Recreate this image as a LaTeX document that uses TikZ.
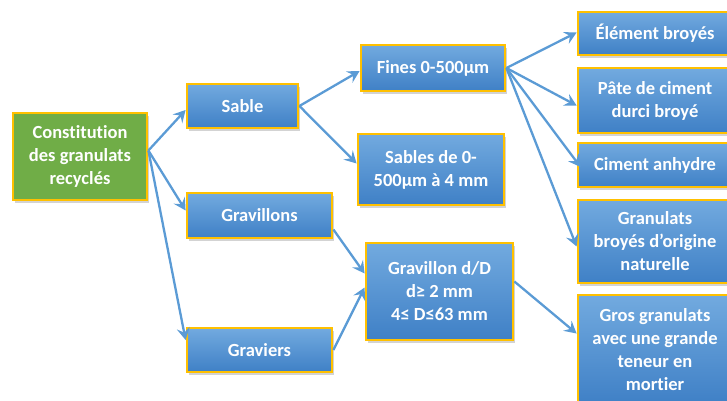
\documentclass[tikz,border=0pt]{standalone}
\usepackage{fontspec}
\setmainfont{Carlito}[Ligatures=NoCommon]
\usetikzlibrary{arrows.meta,shadows}
\definecolor{gold}{HTML}{FFC000}
\definecolor{btop}{HTML}{72AADF}
\definecolor{bbot}{HTML}{3F80C6}
\definecolor{groot}{HTML}{70AD47}
\definecolor{arr}{HTML}{5B9BD5}
\tikzset{
  box/.style={draw=gold, line width=2.8pt, top color=btop, bottom color=bbot,
    text=white, font=\bfseries\fontsize{18.5}{23}\selectfont, align=center,
    inner sep=0pt, drop shadow={shadow xshift=2pt, shadow yshift=-2.5pt, opacity=0.35}},
  rootbox/.style={box, fill=groot, top color=groot, bottom color=groot},
  conn/.style={draw=arr, line width=2.3pt, -{Stealth[length=12pt,width=13pt,inset=4.5pt]}}
}
\begin{document}
\begin{tikzpicture}[x=1pt,y=1pt]
\useasboundingbox (0,0) rectangle (727,-400);
\node[rootbox, minimum width=134pt, minimum height=87pt] (root) at (80,-156.5) {Constitution\\des granulats\\recyclés};
\node[box, minimum width=111pt, minimum height=44pt] (sable) at (242.5,-106) {Sable};
\node[box, minimum width=145pt, minimum height=45pt] (gravillons) at (259.5,-215.5) {Gravillons};
\node[box, minimum width=145pt, minimum height=44pt] (graviers) at (259.5,-350) {Graviers};
\node[box, minimum width=144pt, minimum height=46pt] (fines) at (433,-68) {Fines 0-500µm};
\node[box, minimum width=146pt, minimum height=71pt] (sables) at (431,-169.5) {Sables de 0-\\500µm à 4 mm};
\node[box, minimum width=147pt, minimum height=97pt] (gdd) at (439.5,-291.5) {Gravillon d/D\\d≥ 2 mm\\4≤ D≤63 mm};
\node[box, minimum width=154pt, minimum height=43pt] (elem) at (655,-33.5) {Élément broyés};
\node[box, minimum width=154pt, minimum height=65pt] (pate) at (655,-100.5) {Pâte de ciment\\durci broyé};
\node[box, minimum width=154pt, minimum height=44pt] (ciment) at (655,-165) {Ciment anhydre};
\node[box, minimum width=154pt, minimum height=83pt] (gran) at (655,-241.5) {Granulats\\broyés d’origine\\naturelle};
\node[box, minimum width=154pt, minimum height=109pt] (gros) at (655,-349.5) {Gros granulats\\avec une grande\\teneur en\\mortier};
\draw[conn] ([yshift=6pt]root.east) -- ([yshift=-4pt]sable.west);
\draw[conn] ([yshift=6pt]root.east) -- ([yshift=5pt]gravillons.west);
\draw[conn] ([yshift=6pt]root.east) -- ([yshift=10pt]graviers.west);
\draw[conn] (sable.east) -- ([yshift=-3pt]fines.west);
\draw[conn] (sable.east) -- ([yshift=6pt]sables.west);
\draw[conn] ([yshift=-14pt]gravillons.east) -- ([yshift=18pt]gdd.west);
\draw[conn] (graviers.east) -- ([yshift=4pt]gdd.west);
\draw[conn] (fines.east) -- ([yshift=1pt]elem.west);
\draw[conn] (fines.east) -- ([yshift=-5pt]pate.west);
\draw[conn] (fines.east) -- ([xshift=4pt,yshift=-2pt]ciment.west);
\draw[conn] (fines.east) -- ([yshift=-5pt]gran.west);
\draw[conn] ([yshift=10pt]gdd.east) -- ([yshift=16pt]gros.west);
\end{tikzpicture}
\end{document}
